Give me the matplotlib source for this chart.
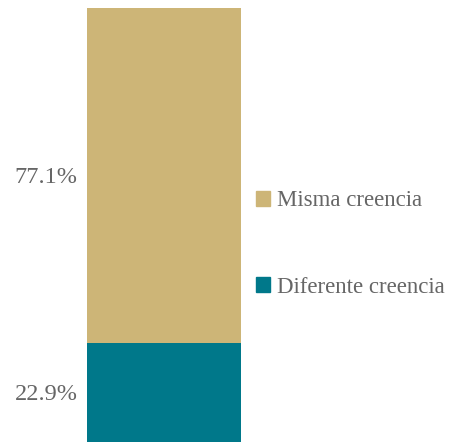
import matplotlib.pyplot as plt
from matplotlib.patches import Patch

categories = ["Diferente creencia", "Misma creencia"]
values = [22.9, 77.1]
colors = ["#00788A", "#CDB577"]
text_color = "#666666"

W, H = 453, 442
fig = plt.figure(figsize=(W / 100, H / 100), dpi=100)
ax = fig.add_axes([87 / W, 1 - 442 / H, 154 / W, 434 / H])

bottom = 0
for cat, val, col in zip(categories, values, colors):
    ax.bar(0, val, width=1, bottom=bottom, color=col, label=cat)
    ax.text(-0.56, bottom + val / 2, f"{val:.1f}%", ha="right", va="center_baseline",
            fontsize=17.5, color=text_color, family="Liberation Serif")
    bottom += val

ax.set_xlim(-0.5, 0.5)
ax.set_ylim(0, 100)
ax.axis("off")

fs = 16.5
handles = [Patch(color=colors[1], label=categories[1]),
           Patch(color=colors[0], label=categories[0])]
fig.legend(handles=handles, loc="center left",
           bbox_to_anchor=(256 / W, 1 - 244 / H), frameon=False,
           prop={"family": "Liberation Serif", "size": fs},
           labelcolor=text_color, borderpad=0, borderaxespad=0,
           handlelength=0.62, handleheight=0.62, handletextpad=0.3,
           labelspacing=2.85)

fig.savefig("out.png", dpi=100)
